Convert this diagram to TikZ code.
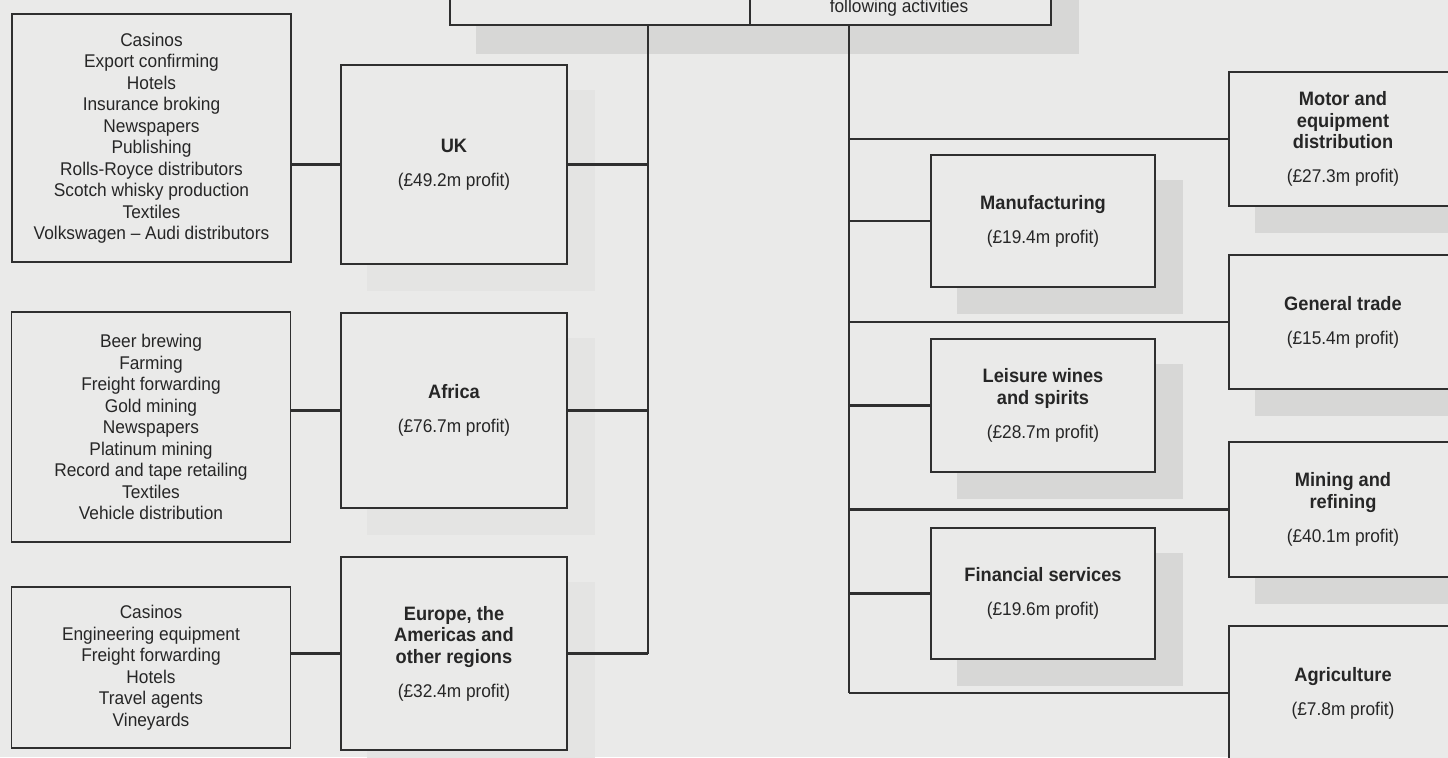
\documentclass[tikz,border=0pt]{standalone}
\usepackage{fontspec}
\setmainfont{Liberation Sans}[FakeStretch=0.94]
\definecolor{bgcol}{HTML}{EAEAE9}
\definecolor{linecol}{HTML}{2F2F2F}
\definecolor{txtcol}{HTML}{262626}
\definecolor{shadecol}{HTML}{D7D7D6}
\definecolor{faintcol}{HTML}{E4E4E3}
\newcommand\hd[1]{{\fontsize{9.7}{11}\selectfont\bfseries #1}}
\pgfdeclarelayer{bglayer}
\pgfdeclarelayer{shadowlayer}
\pgfsetlayers{bglayer,shadowlayer,main}
\begin{document}
\begin{tikzpicture}[x=0.5pt,y=-0.5pt,
  box/.style={draw=linecol, line width=0.95pt, fill=bgcol, rectangle, inner sep=0pt,
    align=center, text=txtcol, font=\fontsize{9.2}{10.75}\selectfont},
  txt/.style={text=txtcol, inner sep=0pt, font=\fontsize{9.2}{10.75}\selectfont},
  conn/.style={draw=linecol, line width=1.3pt},
  darkshadow/.style={fill=shadecol, draw=none},
  lightshadow/.style={fill=faintcol, draw=none},
]
\useasboundingbox (0,0) rectangle (1448,757);
\clip (0,0) rectangle (1448,757);
\begin{pgfonlayer}{bglayer}
  \fill[bgcol] (0,0) rectangle (1448,757);
\end{pgfonlayer}

% top header box (cut by the top edge)
\node[box, minimum width=150pt, minimum height=37.5pt] (tl) at (600,-12.5) {};
\node[box, minimum width=150.5pt, minimum height=37.5pt] (tr) at (900.5,-12.5) {};
\node[txt, anchor=base] (ftxt) at (899,12) {following activities};

% left column: activity lists
\node[box, minimum width=139.5pt, minimum height=124pt] (cas1) at (151.5,138)
  {Casinos\\Export confirming\\Hotels\\Insurance broking\\Newspapers\\Publishing\\Rolls-Royce distributors\\Scotch whisky production\\Textiles\\Volkswagen -- Audi distributors};
\node[box, minimum width=139.5pt, minimum height=115pt] (beer) at (151,427)
  {Beer brewing\\Farming\\Freight forwarding\\Gold mining\\Newspapers\\Platinum mining\\Record and tape retailing\\Textiles\\Vehicle distribution};
\node[box, minimum width=139.5pt, minimum height=80.5pt] (cas2) at (151,667.5)
  {Casinos\\Engineering equipment\\Freight forwarding\\Hotels\\Travel agents\\Vineyards};

% regions
\node[box, minimum width=113pt, minimum height=99.5pt] (uk) at (454,164.5)
  {\hd{UK}\\[6.25pt](£49.2m profit)};
\node[box, minimum width=113pt, minimum height=97.5pt] (afr) at (454,410.5)
  {\hd{Africa}\\[6.25pt](£76.7m profit)};
\node[box, minimum width=113pt, minimum height=96.5pt] (eur) at (454,653.5)
  {\hd{Europe, the}\\\hd{Americas and}\\\hd{other regions}\\[6.25pt](£32.4m profit)};

% activities, middle column
\node[box, minimum width=112pt, minimum height=66pt] (man) at (1043,221)
  {\hd{Manufacturing}\\[6.25pt](£19.4m profit)};
\node[box, minimum width=112pt, minimum height=66.5pt] (lei) at (1043,405.5)
  {\hd{Leisure wines}\\\hd{and spirits}\\[6.25pt](£28.7m profit)};
\node[box, minimum width=112pt, minimum height=65.5pt] (fin) at (1043,593.5)
  {\hd{Financial services}\\[6.25pt](£19.6m profit)};

% activities, right column
\node[box, minimum width=114pt, minimum height=67pt] (mot) at (1343,139)
  {\hd{Motor and}\\\hd{equipment}\\\hd{distribution}\\[6.25pt](£27.3m profit)};
\node[box, minimum width=114pt, minimum height=67pt] (gen) at (1343,322)
  {\hd{General trade}\\[6.25pt](£15.4m profit)};
\node[box, minimum width=114pt, minimum height=67.5pt] (mng) at (1343,509.5)
  {\hd{Mining and}\\\hd{refining}\\[6.25pt](£40.1m profit)};
\node[box, minimum width=114pt, minimum height=67pt] (agr) at (1343,693)
  {\hd{Agriculture}\\[6.25pt](£7.8m profit)};

% shadows
\begin{pgfonlayer}{shadowlayer}
  \foreach \n in {man,lei,fin,mot,gen,mng,agr}{
    \fill[darkshadow] ([shift={(27,26)}]\n.north west) rectangle ([shift={(27,26)}]\n.south east);
  }
  \fill[darkshadow] ([shift={(27,28)}]tl.north west) rectangle ([shift={(27,28)}]tr.south east);
  \foreach \n in {uk,afr,eur}{
    \fill[lightshadow] ([shift={(27,26)}]\n.north west) rectangle ([shift={(27,26)}]\n.south east);
  }
\end{pgfonlayer}

% trunks
\coordinate (ltop) at (648,25);
\coordinate (rtop) at (849,25);
\draw[conn] (ltop) -- (ltop |- eur.east);
\draw[conn] (rtop) -- (rtop |- agr.west);

% left connectors
\draw[conn] (cas1.east |- uk.west) -- (uk.west);
\draw[conn] (beer.east |- afr.west) -- (afr.west);
\draw[conn] (cas2.east |- eur.west) -- (eur.west);
\draw[conn] (uk.east) -- (uk.east -| ltop);
\draw[conn] (afr.east) -- (afr.east -| ltop);
\draw[conn] (eur.east) -- (eur.east -| ltop);

% right connectors
\foreach \n in {man,lei,fin,mot,gen,mng,agr}{
  \draw[conn] (rtop |- \n.west) -- (\n.west);
}
\end{tikzpicture}
\end{document}
